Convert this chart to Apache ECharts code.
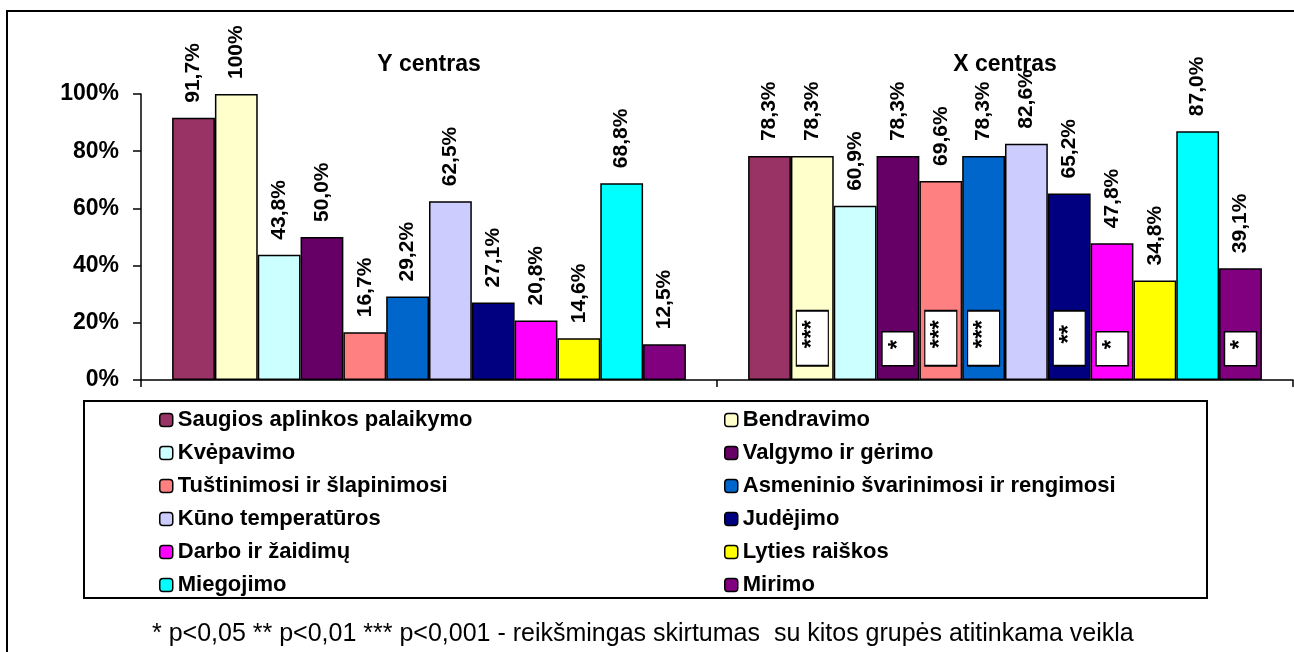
<!DOCTYPE html>
<html>
<head>
<meta charset="utf-8">
<script src="https://cdn.jsdelivr.net/npm/echarts@6/dist/echarts.min.js"></script>
<style>
  html, body { margin: 0; padding: 0; background: #fff; }
  #chart { width: 1294px; height: 652px; }
</style>
</head>
<body>
<div id="chart"></div>
<script>
// grupės (kategorijos)
var groups = ['Y centras', 'X centras'];
// veiklos (serijos)
var names = ['Saugios aplinkos palaikymo', 'Bendravimo', 'Kvėpavimo', 'Valgymo ir gėrimo',
  'Tuštinimosi ir šlapinimosi', 'Asmeninio švarinimosi ir rengimosi', 'Kūno temperatūros',
  'Judėjimo', 'Darbo ir žaidimų', 'Lyties raiškos', 'Miegojimo', 'Mirimo'];
var colors = ['#993366', '#FFFFCC', '#CCFFFF', '#660066', '#FF8080', '#0066CC',
  '#CCCCFF', '#000080', '#FF00FF', '#FFFF00', '#00FFFF', '#800080'];
// reikšmės procentais
var valuesY = [91.7, 100, 43.8, 50.0, 16.7, 29.2, 62.5, 27.1, 20.8, 14.6, 68.8, 12.5];
var valuesX = [78.3, 78.3, 60.9, 78.3, 69.6, 78.3, 82.6, 65.2, 47.8, 34.8, 87.0, 39.1];
// reikšmingumo žymės X centrui
var sigX = ['', '***', '', '*', '***', '***', '', '**', '*', '', '', '*'];
var yTicks = [0, 20, 40, 60, 80, 100];

var font = "'Liberation Sans', Arial, sans-serif";

function fmt(v) {
  if (v === 100) return '100%';
  return v.toFixed(1).replace('.', ',') + '%';
}

var myChart = echarts.init(document.getElementById('chart'));

var series = names.map(function (n, i) {
  var s = {
    name: n,
    type: 'bar',
    barGap: 0,
    barCategoryGap: '10.8%',
    data: [valuesY[i], valuesX[i]],
    itemStyle: { color: colors[i], borderColor: '#000', borderWidth: 1.5 },
    label: {
      show: true,
      position: 'top',
      distance: 15,
      rotate: 90,
      align: 'left',
      verticalAlign: 'middle',
      color: '#000',
      fontFamily: font,
      fontWeight: 'bold',
      fontSize: 21,
      formatter: function (p) { return fmt(p.value); }
    }
  };
  if (sigX[i]) {
    var h = sigX[i].length === 1 ? 34 : 55;
    s.markPoint = {
      symbol: 'rect',
      symbolSize: [32, h],
      symbolOffset: [0, -h / 2],
      itemStyle: { color: '#fff', borderColor: '#000', borderWidth: 1.5 },
      label: {
        show: true,
        position: 'inside',
        offset: [4, 0],
        rotate: 90,
        color: '#000',
        fontFamily: font,
        fontWeight: 'bold',
        fontSize: 24,
        formatter: sigX[i]
      },
      data: [{ coord: [1, 5] }]
    };
  }
  return s;
});

var legendBase = {
  orient: 'vertical',
  top: 409,
  padding: 0,
  itemWidth: 13,
  itemHeight: 13,
  itemGap: 11,
  selectedMode: false,
  itemStyle: { borderColor: '#000', borderWidth: 1.5 },
  textStyle: { fontFamily: font, fontWeight: 'bold', fontSize: 22, lineHeight: 22, color: '#000' }
};

var option = {
  animation: false,
  backgroundColor: '#fff',
  grid: { left: 141, right: 1, top: 94, bottom: 272 },
  xAxis: [{
    type: 'category',
    data: groups,
    axisLine: { lineStyle: { color: '#000', width: 1.5 } },
    axisTick: { show: true, length: 7, lineStyle: { color: '#000', width: 1.5 } },
    axisLabel: { show: false }
  }, {
    type: 'category',
    position: 'top',
    data: groups,
    axisLine: { show: false },
    axisTick: { show: false },
    axisLabel: { margin: 18, color: '#000', fontFamily: font, fontWeight: 'bold', fontSize: 23 }
  }],
  yAxis: {
    type: 'value',
    min: yTicks[0],
    max: yTicks[yTicks.length - 1],
    interval: 20,
    axisLine: { show: true, lineStyle: { color: '#000', width: 1.5 } },
    axisTick: { show: true, length: 8, lineStyle: { color: '#000', width: 1.5 } },
    splitLine: { show: false },
    axisLabel: { margin: 22, color: '#000', fontFamily: font, fontWeight: 'bold', fontSize: 23, formatter: '{value}%' }
  },
  legend: [
    Object.assign({}, legendBase, { left: 159, data: names.filter(function (n, i) { return i % 2 === 0; }) }),
    Object.assign({}, legendBase, { left: 724, data: names.filter(function (n, i) { return i % 2 === 1; }) })
  ],
  graphic: [
    // išorinis rėmelis
    { type: 'rect', shape: { x: 7, y: 11, width: 1300, height: 700 }, style: { fill: 'none', stroke: '#000', lineWidth: 2 }, z: -1 },
    // legendos rėmelis
    { type: 'rect', shape: { x: 84, y: 401, width: 1123, height: 197 }, style: { fill: 'none', stroke: '#000', lineWidth: 2 } },
    // pastaba
    {
      type: 'text', left: 152, top: 622,
      style: {
        text: '* p<0,05 ** p<0,01 *** p<0,001 - reikšmingas skirtumas  su kitos grupės atitinkama veikla',
        fontFamily: font, fontSize: 25, fill: '#000'
      }
    }
  ],
  series: series
};

myChart.setOption(option);
</script>
</body>
</html>
